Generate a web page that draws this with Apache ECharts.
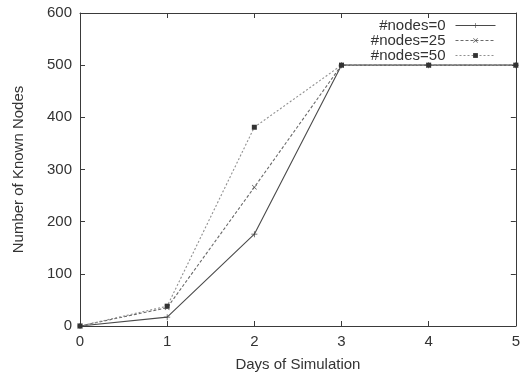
<!DOCTYPE html>
<html>
<head>
<meta charset="utf-8">
<script src="https://cdn.jsdelivr.net/npm/echarts@6/dist/echarts.min.js"></script>
<style>
  html, body { margin: 0; padding: 0; background: #fff; }
  #chart { width: 523px; height: 377px; }
</style>
</head>
<body>
<div id="chart"></div>
<script>
// Days of simulation and number of known nodes per configuration
const days = [0, 1, 2, 3, 4, 5];
const nodes0 = [0, 17, 176, 500, 500, 500];
const nodes25 = [0, 35, 266, 500, 500, 500];
const nodes50 = [0, 38, 381, 500, 500, 500];
const seriesNames = ['#nodes=0', '#nodes=25', '#nodes=50'];
const yTicks = [0, 100, 200, 300, 400, 500, 600];

const FONT = 'Liberation Sans, Arial, sans-serif';
const AXIS_COLOR = '#3a3a3a';
const TEXT_COLOR = '#333';

// Filled outlines for the "+" and "x" point markers
const PLUS = 'path://M4.4,0H5.6V4.4H10V5.6H5.6V10H4.4V5.6H0V4.4H4.4Z';
const CROSS = 'path://M0.8,0L5,4.2L9.2,0L10,0.8L5.8,5L10,9.2L9.2,10L5,5.8L0.8,10L0,9.2L4.2,5L0,0.8Z';

function pairs(values) {
  return days.map((d, i) => [d, values[i]]);
}

const chart = echarts.init(document.getElementById('chart'), null, { renderer: 'canvas' });

const baseAxis = {
  axisLine: { show: true, onZero: false, lineStyle: { color: AXIS_COLOR, width: 1 } },
  axisTick: { show: true, inside: true, length: 5, lineStyle: { color: AXIS_COLOR } },
  splitLine: { show: false }
};

chart.setOption({
  animation: false,
  backgroundColor: '#fff',
  textStyle: { fontFamily: FONT },
  grid: { left: 80, right: 5, top: 13, bottom: 51, containLabel: false },
  legend: {
    orient: 'vertical',
    right: 22,
    top: 13,
    align: 'right',
    itemWidth: 40,
    itemHeight: 6,
    itemGap: 0,
    data: seriesNames,
    lineStyle: { width: 1 },
    textStyle: { fontSize: 15, color: TEXT_COLOR, fontFamily: FONT, width: 90, align: 'right', padding: [0, 5, 0, 0] }
  },
  xAxis: [
    Object.assign({}, baseAxis, {
      type: 'value', min: 0, max: 5, interval: 1, position: 'bottom',
      name: 'Days of Simulation', nameLocation: 'middle', nameGap: 31,
      nameTextStyle: { fontSize: 15, color: TEXT_COLOR, fontFamily: FONT },
      axisLabel: { fontSize: 15, color: TEXT_COLOR, margin: 8, fontFamily: FONT }
    }),
    Object.assign({}, baseAxis, {
      type: 'value', min: 0, max: 5, interval: 1, position: 'top',
      axisLabel: { show: false }
    })
  ],
  yAxis: [
    Object.assign({}, baseAxis, {
      type: 'value', min: 0, max: 600, interval: 100, position: 'left',
      name: 'Number of Known Nodes', nameLocation: 'middle', nameGap: 54,
      nameTextStyle: { fontSize: 15, color: TEXT_COLOR, fontFamily: FONT },
      axisLabel: {
        fontSize: 15, color: TEXT_COLOR, margin: 8, fontFamily: FONT,
        formatter: v => (yTicks.includes(v) ? String(v) : '')
      }
    }),
    Object.assign({}, baseAxis, {
      type: 'value', min: 0, max: 600, interval: 100, position: 'right',
      axisLabel: { show: false }
    })
  ],
  series: [
    {
      name: seriesNames[0], type: 'line', data: pairs(nodes0), clip: false,
      symbol: PLUS, symbolSize: 6, showAllSymbol: true,
      lineStyle: { color: '#4a4a4a', width: 1.1, type: 'solid' },
      itemStyle: { color: '#444' }
    },
    {
      name: seriesNames[1], type: 'line', data: pairs(nodes25), clip: false,
      symbol: CROSS, symbolSize: 5,
      lineStyle: { color: '#6a6a6a', width: 1.1, type: [3, 2] },
      itemStyle: { color: '#555' }
    },
    {
      name: seriesNames[2], type: 'line', data: pairs(nodes50), clip: false,
      symbol: 'rect', symbolSize: 5,
      lineStyle: { color: '#909090', width: 1.1, type: [2, 2] },
      itemStyle: { color: '#333' }
    }
  ]
});
</script>
</body>
</html>
